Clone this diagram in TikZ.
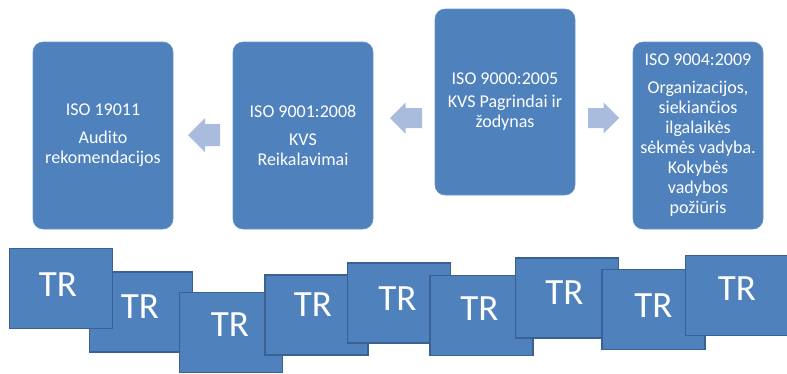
\documentclass[tikz,border=0pt]{standalone}
\usepackage{fontspec}
\setmainfont{Carlito}
\definecolor{boxblue}{HTML}{4F81BD}
\definecolor{boxedge}{HTML}{3A6192}
\definecolor{arrowblue}{HTML}{A9BCDE}
\begin{document}
\begin{tikzpicture}[x=1pt,y=-1pt,
  topbox/.style={rectangle, rounded corners=10pt, fill=boxblue, draw=boxblue!85!white, line width=0.6pt,
    minimum width=140pt, minimum height=187pt, inner sep=0pt, text=white, align=center,
    font=\fontsize{18}{20}\selectfont},
  blockarrow/.style={fill=arrowblue, draw=none},
  trbox/.style={rectangle, fill=boxblue, draw=boxedge, line width=1.5pt,
    minimum width=103pt, minimum height=80pt, inner sep=0pt},
  trtext/.style={text=white, font=\fontsize{37}{40}\selectfont, inner sep=0pt}
]
\useasboundingbox (0,0) rectangle (787,373);

% top boxes
\node[topbox] (b1) at (103,135.5) {ISO 19011\\[8pt]Audito\\rekomendacijos};
\node[topbox] (b2) at (303,135.5) {ISO 9001:2008\\[8pt]KVS\\Reikalavimai};
\node[topbox, minimum height=186pt] (b3) at (505,102) {ISO 9000:2005\\[3pt]KVS Pagrindai ir\\žodynas};
\node[topbox, minimum width=130pt] (b4) at (698,135.5)
  {ISO 9004:2009\\[8pt]Organizacijos,\\siekiančios\\ilgalaikės\\sėkmės vadyba.\\Kokybės\\vadybos\\požiūris};

% block arrows (left-pointing shape drawn around a named centre)
\coordinate (a1) at (204,135);
\coordinate (a2) at (406,118);
\coordinate (a3) at (603.5,118);
\fill[blockarrow] ([shift={(-16,0)}]a1) -- ([shift={(1,-17)}]a1) -- ([shift={(1,-11)}]a1)
  -- ([shift={(16,-11)}]a1) -- ([shift={(16,11)}]a1) -- ([shift={(1,11)}]a1) -- ([shift={(1,17)}]a1) -- cycle;
\fill[blockarrow] ([shift={(-16,0)}]a2) -- ([shift={(-0.5,-15.5)}]a2) -- ([shift={(-0.5,-10)}]a2)
  -- ([shift={(16,-10)}]a2) -- ([shift={(16,10)}]a2) -- ([shift={(-0.5,10)}]a2) -- ([shift={(-0.5,15.5)}]a2) -- cycle;
\fill[blockarrow] ([shift={(15.5,0)}]a3) -- ([shift={(0,-15.5)}]a3) -- ([shift={(0,-10)}]a3)
  -- ([shift={(-15.5,-10)}]a3) -- ([shift={(-15.5,10)}]a3) -- ([shift={(0,10)}]a3) -- ([shift={(0,15.5)}]a3) -- cycle;

% TR boxes
\node[trbox] (t2) at (141,312) {};
\node[trbox] (t1) at (61,288.5) {};
\node[trbox] (t3) at (231,332.5) {};
\node[trbox] (t4) at (316.5,315) {};
\node[trbox] (t5) at (399,303) {};
\node[trbox] (t6) at (481.5,315.5) {};
\node[trbox] (t7) at (567,298) {};
\node[trbox] (t8) at (653.5,309.5) {};
\node[trbox] (t9) at (737,295.5) {};

\node[trtext] (l1) at ([shift={(-3,-3.5)}]t1.center) {TR};
\node[trtext] (l2) at ([shift={(-1,-5.5)}]t2.center) {TR};
\node[trtext] (l3) at ([shift={(-1,-7.5)}]t3.center) {TR};
\node[trtext] (l4) at ([shift={(-3.5,-10)}]t4.center) {TR};
\node[trtext] (l5) at ([shift={(-1.5,-4.5)}]t5.center) {TR};
\node[trtext] (l6) at ([shift={(-2,-6.5)}]t6.center) {TR};
\node[trtext] (l7) at ([shift={(-2.5,-5.5)}]t7.center) {TR};
\node[trtext] (l8) at ([shift={(0,-3.5)}]t8.center) {TR};
\node[trtext] (l9) at ([shift={(0,-6.5)}]t9.center) {TR};
\end{tikzpicture}
\end{document}
